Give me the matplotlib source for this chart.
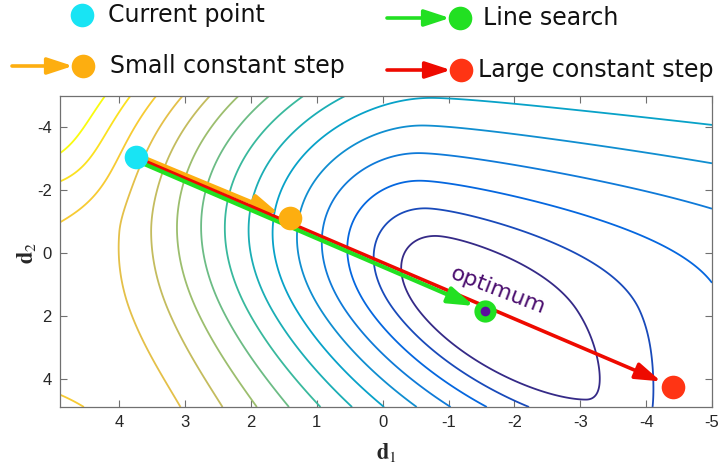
import numpy as np
import matplotlib
matplotlib.use("Agg")
import matplotlib.pyplot as plt
from matplotlib.colors import LinearSegmentedColormap

# iterate positions (d1, d2)
current_pt = (3.75, -3.05)
small_step_pt = (1.41, -1.11)
line_search_pt = (-1.56, 1.84)
large_step_pt = (-4.41, 4.25)
optimum_pt = (-1.56, 1.84)

x_ticks = [4, 3, 2, 1, 0, -1, -2, -3, -4, -5]
y_ticks = [-4, -2, 0, 2, 4]
contour_levels = np.arange(1, 16)

# valley shape and wall steepness of the objective
valley_coef = (-0.4225, -0.0429, 0.0002)
scale_up, scale_down = 0.8789, 1.0406
wall_gain = (2.6962, -0.1232, -0.0118)
wall_cap = (14.6, 0.38, 2.5)
wall_sharpness = 11.41
flank_gain = (20.5656, 1.058, 0.0161)
flank_width = 4.2924
flank_sharpness = 0.5
level_offset = 2.7142

# parula, sampled every 8th entry
PARULA = [(0.2081, 0.1663, 0.5292), (0.0117, 0.3875, 0.8820),
          (0.0793, 0.5200, 0.8312), (0.0228, 0.6535, 0.7768),
          (0.2178, 0.7250, 0.6193), (0.5709, 0.7485, 0.4494),
          (0.8507, 0.7299, 0.3360), (0.9880, 0.8066, 0.1794),
          (0.9763, 0.9831, 0.0538)]
parula = LinearSegmentedColormap.from_list("parula", PARULA)


def poly(c, t):
    return c[0] + c[1] * t + c[2] * t ** 2


def objective(d1, d2):
    '''curved, lopsided valley with its bottom at optimum_pt'''
    t = d2 - optimum_pt[1]
    c1, c2, c3 = valley_coef
    x = d1 - (optimum_pt[0] + c1 * t + c2 * t ** 2 + c3 * t ** 3)
    along = np.where(t < 0, t / scale_up, t / scale_down)
    kx = np.abs(poly(wall_gain, t)) * np.maximum(x, 0)
    cap = wall_cap[0] + wall_cap[1] * np.maximum(-t - wall_cap[2], 0) ** 2
    p = wall_sharpness
    wall = kx / (1 + (kx / cap) ** p) ** (1 / p)
    u = np.maximum(-x, 0) / flank_width
    q = flank_sharpness
    flank = np.abs(poly(flank_gain, t)) * u / (1 + u ** q) ** (1 / q)
    return np.hypot(wall + flank, along) - level_offset + 1


g1 = np.linspace(-5, 4.9, 400)
g2 = np.linspace(-5, 4.9, 400)
D1, D2 = np.meshgrid(g1, g2)
F = objective(D1, D2)

fig = plt.figure(figsize=(7.19, 4.63), dpi=100)
ax = fig.add_axes([60 / 719, 56 / 463, 652 / 719, 311 / 463])
ax.contour(D1, D2, F, levels=contour_levels, cmap=parula,
           vmin=contour_levels[0], vmax=contour_levels[-1], linewidths=1.3)

ax.set_xlim(4.9, -5)
ax.set_ylim(4.9, -5)
ax.set_xticks(x_ticks)
ax.set_xticklabels([str(t) for t in x_ticks])
ax.set_yticks(y_ticks)
ax.set_yticklabels([str(t) for t in y_ticks])
ax.tick_params(direction="in", top=True, right=True, length=5, width=0.8,
               color="#707070", labelcolor="#262626", labelsize=12, pad=6)
for lab in ax.get_xticklabels() + ax.get_yticklabels():
    lab.set_family("Liberation Sans")
for s in ax.spines.values():
    s.set_color("#707070")
    s.set_linewidth(0.9)

plt.rcParams["mathtext.fontset"] = "stix"
fig.text(386 / 719, 1 - 452 / 463, r"$\mathbf{d}_1$", fontsize=16,
         ha="center", va="center", color="#262626")
fig.text(26 / 719, 1 - 253 / 463, r"$\mathbf{d}_2$", fontsize=16,
         ha="center", va="center", rotation=90, color="#262626")

cyan = "#18e4f4"
orange = "#fdae10"
green = "#22e022"
red = "#ee0a00"
red_dot = "#ff3414"
purple = "#5c0f9e"


def arrow(a, start, end, color, lw, shrink):
    a.annotate("", xy=end, xytext=start,
               arrowprops=dict(arrowstyle="-|>,head_length=0.55,head_width=0.18",
                               color=color, lw=lw, mutation_scale=28,
                               shrinkA=0, shrinkB=shrink))


# the three steps leave the current point side by side
arrow(ax, (current_pt[0], current_pt[1] - 0.09), small_step_pt, orange, 3.2, 8.5)
arrow(ax, current_pt, large_step_pt, red, 2.6, 9.5)
arrow(ax, (current_pt[0], current_pt[1] + 0.1), line_search_pt, green, 3.0, 9.0)

ax.plot(*small_step_pt, "o", ms=17, color=orange, mec="none", zorder=5)
ax.plot(*large_step_pt, "o", ms=17, color=red_dot, mec="none", zorder=5)
ax.plot(*line_search_pt, "o", ms=16, color=green, mec="none", zorder=5)
ax.plot(*optimum_pt, "o", ms=7, color=purple, mec="none", zorder=6)
ax.plot(*current_pt, "o", ms=17, color=cyan, mec="none", zorder=6)
ax.text(-1.75, 1.2, "optimum", rotation=-21, fontsize=16, color="#4a0d6e",
        ha="center", va="center", zorder=6)

# legend drawn on a pixel-space overlay
ov = fig.add_axes([0, 0, 1, 1])
ov.set_xlim(0, 719)
ov.set_ylim(463, 0)
ov.axis("off")
ov.plot(82, 15, "o", ms=17, color=cyan, mec="none")
ov.text(108, 15, "Current point", fontsize=17, va="center", color="#111111")
arrow(ov, (12, 66), (84, 66), orange, 2.6, 8.0)
ov.plot(83, 66, "o", ms=17, color=orange, mec="none")
ov.text(110, 66, "Small constant step", fontsize=17, va="center", color="#111111")
arrow(ov, (387, 18), (461, 18), green, 2.6, 8.0)
ov.plot(460, 18, "o", ms=17, color=green, mec="none")
ov.text(483, 18, "Line search", fontsize=17, va="center", color="#111111")
arrow(ov, (387, 70), (462, 70), red, 2.6, 8.0)
ov.plot(461, 70, "o", ms=17, color=red_dot, mec="none")
ov.text(478, 70, "Large constant step", fontsize=17, va="center", color="#111111")

fig.savefig("out.png", dpi=100)
